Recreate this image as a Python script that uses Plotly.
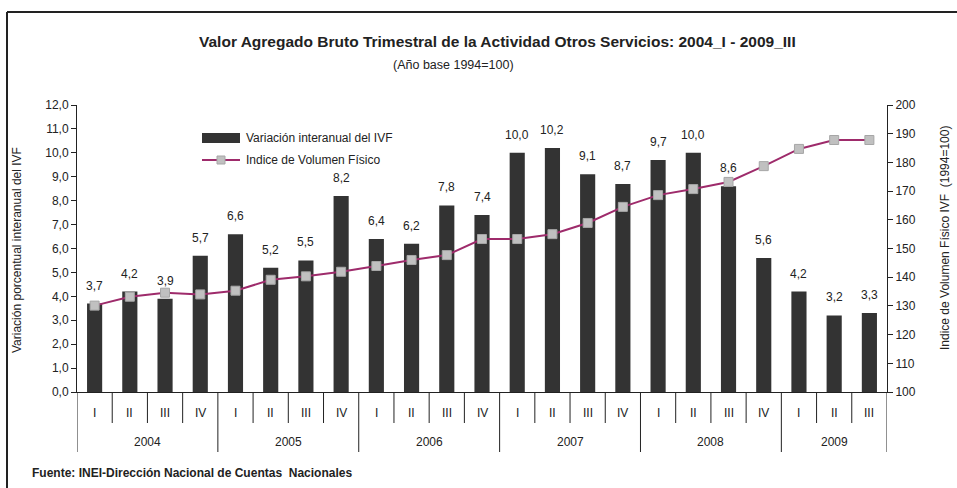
import plotly.graph_objects as go

years = ["2004"] * 4 + ["2005"] * 4 + ["2006"] * 4 + ["2007"] * 4 + ["2008"] * 4 + ["2009"] * 3
quarters = ["I", "II", "III", "IV"] * 5 + ["I", "II", "III"]
variacion = [3.7, 4.2, 3.9, 5.7, 6.6, 5.2, 5.5, 8.2, 6.4, 6.2, 7.8, 7.4,
             10.0, 10.2, 9.1, 8.7, 9.7, 10.0, 8.6, 5.6, 4.2, 3.2, 3.3]
ivf = [130.1, 133.2, 134.6, 134.0, 135.3, 139.1, 140.3, 141.9, 143.9, 146.0, 147.7, 153.3,
       153.3, 155.0, 158.9, 164.5, 168.6, 170.7, 173.2, 178.7, 184.7, 187.8, 187.8]

FONT = "Liberation Sans, Arial, sans-serif"
W, H = 957, 488
L, R, T, B = 77, 70, 105, 96
PW, PH = W - L - R, H - T - B


def px(x):  # pixel -> paper x
    return (x - L) / PW


def py(y):  # pixel -> paper y
    return (H - B - y) / PH


cats = [f"{y}-{q}" for y, q in zip(years, quarters)]
BAR_COLOR = "#333333"
LINE_COLOR = "#9E2B6B"

fig = go.Figure()
fig.add_trace(go.Bar(
    x=cats, y=variacion, name="Variación interanual del IVF",
    marker=dict(color=BAR_COLOR, line=dict(width=0)), width=0.43,
    showlegend=False,
))
fig.add_trace(go.Scatter(
    x=cats, y=ivf, name="Indice de Volumen Físico", yaxis="y2", mode="lines+markers",
    line=dict(color=LINE_COLOR, width=2),
    marker=dict(symbol="square", size=9, color="#C0C0C0", line=dict(color="#A6A6A6", width=1)),
    showlegend=False,
))

shapes = []
annotations = []

# value labels above the bars
for c, v in zip(cats, variacion):
    annotations.append(dict(text=f"{v:.1f}".replace(".", ","), x=c, y=v, xref="x", yref="y",
                            yanchor="middle", yshift=18, showarrow=False, font=dict(size=12)))

# frame (only top and left edges show in the original)
shapes.append(dict(type="line", xref="paper", yref="paper", x0=px(7), x1=px(W + 5), y0=py(12), y1=py(12),
                   line=dict(color="#222", width=2)))
shapes.append(dict(type="line", xref="paper", yref="paper", x0=px(7), x1=px(7), y0=py(12), y1=py(H + 5),
                   line=dict(color="#222", width=2)))

# category axis: quarter dividers, year dividers and labels
n = len(cats)
for i in range(n + 1):
    year_edge = i == 0 or i == n or years[i] != years[i - 1]
    depth = 60 if year_edge else 31
    shapes.append(dict(type="line", xref="x", yref="paper", x0=i - 0.5, x1=i - 0.5,
                       y0=py(H - B), y1=py(H - B + depth), line=dict(color="#222", width=1)))
for i, q in enumerate(quarters):
    annotations.append(dict(text=q, xref="x", yref="paper", x=i, y=py(413), showarrow=False,
                            xanchor="center", yanchor="middle", font=dict(size=12)))
for yr in dict.fromkeys(years):
    idx = [i for i, y in enumerate(years) if y == yr]
    annotations.append(dict(text=yr, xref="x", yref="paper", x=(idx[0] + idx[-1]) / 2, y=py(442),
                            showarrow=False, xanchor="center", yanchor="middle", font=dict(size=12)))

# legend drawn by hand to match the original's wide swatches
shapes.append(dict(type="rect", xref="paper", yref="paper", x0=px(202), x1=px(240), y0=py(133), y1=py(143),
                   fillcolor=BAR_COLOR, line=dict(width=0)))
shapes.append(dict(type="line", xref="paper", yref="paper", x0=px(202), x1=px(240), y0=py(160), y1=py(160),
                   line=dict(color=LINE_COLOR, width=2)))
shapes.append(dict(type="rect", xref="paper", yref="paper", x0=px(217), x1=px(225), y0=py(156), y1=py(164),
                   fillcolor="#C0C0C0", line=dict(color="#A6A6A6", width=1)))
annotations.append(dict(text="Variación interanual del IVF", xref="paper", yref="paper", x=px(244), y=py(138),
                        xanchor="left", yanchor="middle", showarrow=False, font=dict(size=12)))
annotations.append(dict(text="Indice de Volumen Físico", xref="paper", yref="paper", x=px(244), y=py(160),
                        xanchor="left", yanchor="middle", showarrow=False, font=dict(size=12)))

# titles and source
annotations.append(dict(
    text="<b>Valor Agregado Bruto Trimestral de la Actividad Otros Servicios: 2004_I - 2009_III</b>",
    xref="paper", yref="paper", x=px(497), y=py(41), xanchor="center", yanchor="middle",
    showarrow=False, font=dict(size=15.5)))
annotations.append(dict(
    text="(Año base 1994=100)", xref="paper", yref="paper", x=px(453), y=py(65),
    xanchor="center", yanchor="middle", showarrow=False, font=dict(size=12.5)))
annotations.append(dict(
    text="<b>Fuente: INEI-Dirección Nacional de Cuentas  Nacionales</b>",
    xref="paper", yref="paper", x=px(30), y=py(473), xanchor="left", yanchor="middle",
    showarrow=False, font=dict(size=12)))
annotations.append(dict(
    text="Variación porcentual interanual del IVF", xref="paper", yref="paper", x=px(17), y=py(250),
    xanchor="center", yanchor="middle", textangle=-90, showarrow=False, font=dict(size=12)))
annotations.append(dict(
    text="Indice de Volumen Físico IVF  (1994=100)", xref="paper", yref="paper", x=px(945), y=py(238),
    xanchor="center", yanchor="middle", textangle=-90, showarrow=False, font=dict(size=12)))

fig.update_layout(
    width=W, height=H,
    margin=dict(l=L, r=R, t=T, b=B, autoexpand=False),
    paper_bgcolor="white", plot_bgcolor="white",
    font=dict(family=FONT, size=12, color="#222"),
    separators=",.",
    showlegend=False,
    shapes=shapes,
    annotations=annotations,
    xaxis=dict(
        type="category", showline=True, linecolor="#222", linewidth=1,
        showticklabels=False, ticks="", showgrid=False, automargin=False,
        range=[-0.5, n - 0.5],
    ),
    yaxis=dict(
        range=[0, 12], dtick=1, tickformat=".1f", showline=True, linecolor="#222",
        ticks="outside", ticklen=5, tickcolor="#222", showgrid=False, zeroline=False,
        automargin=False, tickfont=dict(size=12),
    ),
    yaxis2=dict(
        range=[100, 200], dtick=10, overlaying="y", side="right", showline=True, linecolor="#222",
        ticks="outside", ticklen=5, tickcolor="#222", showgrid=False, zeroline=False,
        automargin=False, tickfont=dict(size=12),
    ),
)

# the page body has a default 8px margin; drop it so the figure sits at the window's corner
fig.write_html("out.html", config={"displayModeBar": False},
               post_script="document.body.style.margin='0';")
